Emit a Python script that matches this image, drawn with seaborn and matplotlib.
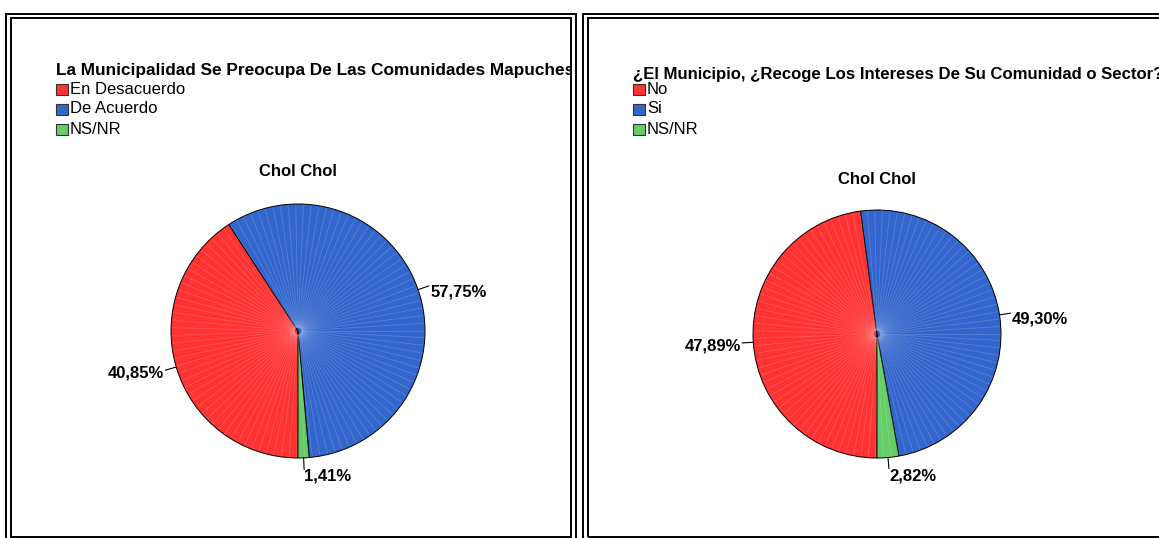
import numpy as np
import matplotlib
matplotlib.use("Agg")
import matplotlib.pyplot as plt
from matplotlib.patches import Rectangle
from matplotlib.transforms import Bbox, TransformedBbox
import seaborn as sns

sns.set_theme(style="white")
plt.rcParams['font.family'] = ['Liberation Sans', 'DejaVu Sans']
plt.rcParams['text.color'] = 'black'

# ============================
# Datos
# ============================
titulo_1 = "La Municipalidad Se Preocupa De Las Comunidades Mapuches"
categorias_1 = ["En Desacuerdo", "De Acuerdo", "NS/NR"]
porcentajes_1 = [40.85, 57.75, 1.41]

titulo_2 = "¿El Municipio, ¿Recoge Los Intereses De Su Comunidad o Sector?"
categorias_2 = ["No", "Si", "NS/NR"]
porcentajes_2 = [47.89, 49.30, 2.82]

comuna = "Chol Chol"
colores = sns.color_palette(["#FF3333", "#3366CC", "#66CC66"])

W, H = 1159, 538
fig = plt.figure(figsize=(W / 100, H / 100), dpi=100)


def fx(x):
    return x / W


def fy(y):
    return 1 - y / H


def marco(x0, y0, x1, y1):
    # rectangulo en pixeles (origen arriba a la izquierda)
    r = Rectangle((fx(x0), fy(y1)), (x1 - x0) / W, (y1 - y0) / H,
                  transform=fig.transFigure, fill=False,
                  edgecolor="black", linewidth=1.4)
    fig.add_artist(r)


def panel(px0, px1, titulo, tam_tit, cats, vals, cx, cy, r, y_tit, y_comuna):
    # doble marco
    marco(px0, 13.5, px1, 545)
    marco(px0 + 4.5, 17.5, px1 - 4.5, 536.5)

    # titulo (recortado por el marco, como en el original)
    t = fig.text(fx(px0 + 50), fy(y_tit), titulo, fontsize=tam_tit, fontweight="bold",
                 ha="left", va="center")
    t.set_clip_box(TransformedBbox(Bbox.from_extents(fx(px0), 0, fx(px1 - 4), 1),
                                   fig.transFigure))
    t.set_clip_on(True)

    # leyenda
    for i, (cat, col) in enumerate(zip(cats, colores)):
        yc = 89 + 20 * i
        sq = Rectangle((fx(px0 + 50), fy(yc + 5.5)), 12 / W, 11 / H,
                       transform=fig.transFigure, facecolor=col,
                       edgecolor="#333333", linewidth=0.8)
        fig.add_artist(sq)
        fig.text(fx(px0 + 64), fy(yc), cat, fontsize=12, ha="left", va="center")

    fig.text(fx(cx), fy(y_comuna), comuna, fontsize=12, fontweight="bold",
             ha="center", va="center")

    # torta
    ax = fig.add_axes([fx(cx - 1.5 * r), (H - cy - 1.5 * r) / H, 3 * r / W, 3 * r / H])
    wedges, _ = ax.pie(vals, colors=colores, startangle=270, counterclock=False,
                       wedgeprops=dict(edgecolor="black", linewidth=0.7))
    # lineas radiales tenues (textura del original)
    for a in np.deg2rad(np.arange(0, 360, 3.5)):
        ax.plot([0.03 * np.cos(a), 0.99 * np.cos(a)],
                [0.03 * np.sin(a), 0.99 * np.sin(a)], color="white",
                alpha=0.17, lw=0.6, zorder=1.5)

    for w, v in zip(wedges, vals):
        ang = np.deg2rad((w.theta1 + w.theta2) / 2)
        c, s = np.cos(ang), np.sin(ang)
        x1, y1 = 1.09 * c, 1.09 * s
        ax.plot([c, x1], [s, y1], color="black", lw=0.8, clip_on=False)
        txt = f"{v:.2f}%".replace(".", ",")
        if s < -0.9:
            ax.text(x1, y1 + 0.005, txt, ha="left", va="top",
                    fontsize=12, fontweight="bold")
        elif c > 0:
            ax.text(x1 + 0.01, y1 - 0.045, txt, ha="left", va="center",
                    fontsize=12, fontweight="bold")
        else:
            ax.text(x1 - 0.01, y1 - 0.025, txt, ha="right", va="center",
                    fontsize=12, fontweight="bold")

    ax.set_xlim(-1.5, 1.5)
    ax.set_ylim(-1.5, 1.5)
    ax.set_aspect("equal")
    ax.axis("off")


panel(6, 575.5, titulo_1, 12.45, categorias_1, porcentajes_1, 298, 331, 127, 71, 172)
panel(583, 1170, titulo_2, 12.1, categorias_2, porcentajes_2, 877, 334, 124, 74, 179)

fig.savefig("out.png", dpi=100, facecolor="white")
